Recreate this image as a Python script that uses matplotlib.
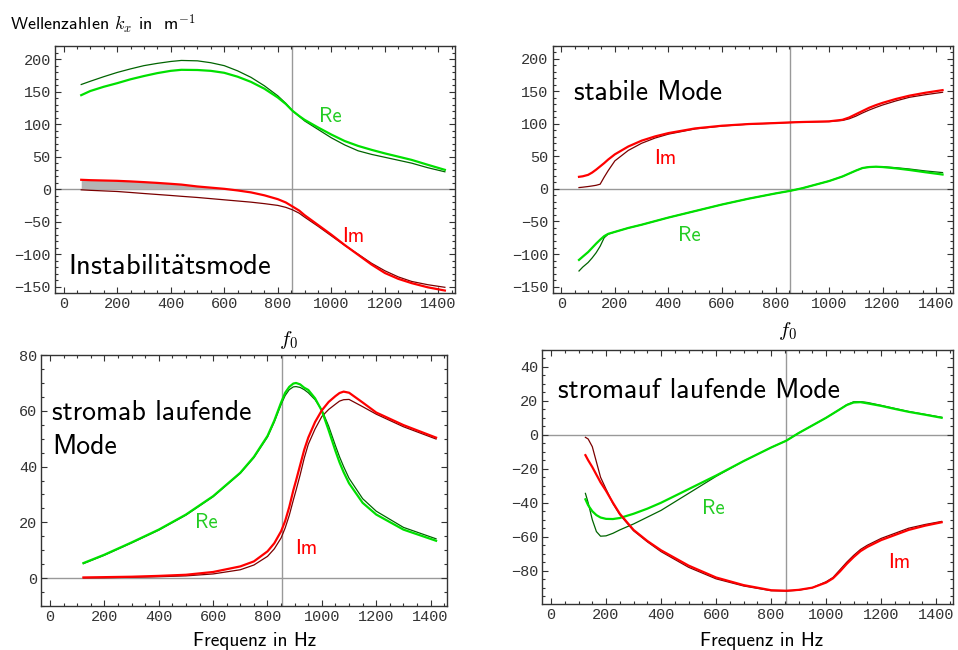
import numpy as np
import matplotlib
matplotlib.use("Agg")
import matplotlib.pyplot as plt
from matplotlib.ticker import MultipleLocator

plt.rcParams['mathtext.fontset'] = 'cm'
plt.rcParams['font.family'] = ['cmss10', 'DejaVu Sans']
plt.rcParams['axes.formatter.use_mathtext'] = False

# =============================================================================
# Data
# =============================================================================
F0 = 853

# Instabilitaetsmode (top left)
f_tl        = [66, 100, 150, 200, 250, 300, 350, 400, 440, 500, 550, 600, 650, 700, 750, 800, 830, 855,
               880, 900, 950, 1000, 1050, 1100, 1150, 1200, 1250, 1300, 1360, 1424]
re_tl_thin  = [161, 166, 173, 179.5, 185, 190, 193.5, 196.4, 198, 197.4, 194.5, 190, 182, 172, 159, 143.6, 132, 120.5,
               112, 105, 92, 79, 68, 59, 53.5, 49, 44.5, 40, 33, 26.7]
re_tl_thick = [144.6, 151, 157.5, 163, 169, 174, 178.5, 182, 183.6, 183.3, 182, 179, 173, 165, 154.5, 141, 131, 120.5,
               112.5, 106.7, 95, 84, 74, 66.5, 60.5, 55, 50, 45, 37.5, 29.7]
im_tl_thick = [14.4, 13.8, 13.3, 12.8, 11.9, 10.8, 9.6, 8.2, 7, 4.1, 2.3, 0.5, -2, -5, -9.5, -15.4, -20.5, -26.7,
               -33, -40, -55, -70, -86, -101, -116, -129, -138, -144.6, -151, -156]
im_tl_thin  = [-1, -1.8, -2.7, -3.6, -5.1, -6.7, -8.2, -9.7, -11, -12.8, -14.6, -16.4, -18.2, -20, -22.3, -25, -28, -31.8,
               -37, -43, -57, -71.8, -86.5, -100, -114, -125.6, -135, -142, -147, -151]

# stabile Mode (top right)
f_tr        = [66, 80, 100, 115, 130, 145, 160, 175, 200, 250, 300, 350, 400, 500, 600, 700, 800, 855, 900,
               1000, 1050, 1075, 1100, 1125, 1150, 1175, 1200, 1250, 1300, 1360, 1424]
im_tr_thick = [18.5, 19.3, 21.5, 25, 29.5, 34.5, 39.5, 45, 53, 65, 74, 80.5, 85.6, 92.8, 96.9, 99.5, 101, 102, 102.6,
               103.6, 106, 109.5, 114.5, 119.5, 124.5, 128.5, 132, 138, 143, 147.5, 151.5]
im_tr_thin  = [2, 2.6, 3.6, 4.5, 5.5, 7.2, 18, 28, 43, 59, 70, 78, 84, 92, 96.4, 99.3, 100.8, 101.8, 102.4,
               103.3, 105, 107.5, 111.5, 116.5, 121, 125, 128.7, 135, 140.5, 144.5, 148.2]
re_tr_thick = [-109, -104, -97, -90.5, -84, -78, -72.5, -69, -66, -60, -55, -49.5, -44, -34, -24, -15, -7, -3, 1,
               12, 19, 23.5, 28, 32, 33.5, 34, 33.5, 31.5, 29, 25.5, 22]
re_tr_thin  = [-126, -120, -113, -106, -98, -88, -75, -69.5, -66, -60, -55, -49.5, -44, -34, -24, -15, -7, -3, 1,
               12, 19, 23.5, 28, 32, 33.7, 34.2, 34, 32.5, 30.5, 27.5, 25]

# stromab laufende Mode (bottom left)
f_bl        = [123, 200, 300, 400, 500, 600, 700, 750, 800, 825, 850, 865, 880, 895, 905, 920, 935, 950, 975,
               1000, 1025, 1050, 1065, 1080, 1100, 1150, 1200, 1300, 1420]
re_bl_thick = [5.4, 8.4, 12.8, 17.4, 22.8, 29.4, 37.8, 43.5, 51, 56.5, 63, 66.5, 68.6, 69.8, 70, 69.5, 68.3, 67.5, 64.5,
               60, 53, 45.6, 41.5, 38, 34, 27, 22.8, 17.4, 13.4]
re_bl_thin  = [5.2, 8.2, 12.6, 17.2, 22.6, 29.2, 37.6, 43.2, 50.6, 56, 62.3, 65.5, 67.6, 68.6, 68.7, 68.4, 67.6, 66.5, 64,
               60.3, 54.5, 47.5, 43.5, 40, 35.8, 28.5, 24, 18.2, 14.1]
im_bl_thick = [0.24, 0.35, 0.5, 0.8, 1.2, 2.2, 4.2, 6, 9.6, 12.5, 16.8, 20.5, 25.5, 31.5, 35, 40.5, 46, 50.4, 56,
               60.2, 63.2, 65.3, 66.4, 66.9, 66.5, 63, 59.4, 54.9, 50.4]
im_bl_thin  = [0.1, 0.15, 0.3, 0.5, 0.8, 1.5, 3, 4.7, 7.8, 10.5, 14.4, 18, 22.5, 28, 31.5, 37, 43, 48, 53.5,
               58, 60.5, 62.4, 63.5, 64, 64.1, 61.5, 58.8, 54.3, 49.9]

# stromauf laufende Mode (bottom right)
f_br        = [125, 135, 150, 165, 180, 200, 225, 250, 300, 350, 400, 500, 600, 700, 800, 855, 900, 950, 1000,
               1025, 1050, 1075, 1100, 1125, 1150, 1200, 1250, 1300, 1360, 1420]
re_br_thick = [-38, -41.5, -45, -47.3, -48.7, -49.5, -49.6, -49, -46.5, -43.5, -40, -32, -24, -15.5, -7.5, -3.5, 1, 5.5, 10,
               12.5, 15, 17.5, 19, 19.2, 18.5, 17, 15.2, 13.5, 11.8, 10]
re_br_thin  = [-34.5, -40, -50, -57, -59.7, -59.5, -58, -56, -52.5, -48.5, -44.5, -34.5, -24.5, -15.5, -7.5, -3.5, 1, 5.5, 10,
               12.5, 15, 17.7, 19.4, 19.5, 19, 17.3, 15.5, 13.7, 12, 10.3]
im_br_thick = [-12, -15, -19, -23.5, -28, -33, -40, -46.5, -56, -62.5, -68, -77, -84, -88.5, -91.5, -91.8, -91.3, -90, -87,
               -84.5, -80.5, -76, -72, -68.5, -66, -62, -59, -56, -53.5, -51.5]
im_br_thin  = [-1.5, -2.5, -7, -16, -25, -32, -40.5, -47, -56.5, -63, -68.8, -78, -84.8, -89, -91.8, -92, -91.5, -90, -86.5,
               -84, -79.5, -75, -71, -67.5, -65, -61, -58, -55, -52.8, -51]

GREEN, DGREEN = '#00e000', '#006400'
RED, DRED = '#ff0000', '#7a0000'
LABGREEN = '#22cc22'
TICKFAMILY, TICKSIZE = 'Liberation Mono', 11

fig = plt.figure(figsize=(9.58, 6.5), dpi=100)

def panel(rect, f, re_thick, re_thin, im_thick, im_thin, ylim, ymaj, ymin):
    ax = fig.add_axes(rect)
    ax.axhline(0, color='#999999', lw=1.0, zorder=1)
    ax.axvline(F0, color='#999999', lw=1.0, zorder=1)
    # thin (dark) curves underneath, bright thick ones on top
    ax.plot(f, re_thin, color=DGREEN, lw=0.9, zorder=3)
    ax.plot(f, im_thin, color=DRED, lw=0.9, zorder=3)
    ax.plot(f, re_thick, color=GREEN, lw=1.6, zorder=4)
    ax.plot(f, im_thick, color=RED, lw=1.6, zorder=4)
    ax.set_xlim(-32, 1462)
    ax.set_ylim(*ylim)
    ax.xaxis.set_major_locator(MultipleLocator(200))
    ax.xaxis.set_minor_locator(MultipleLocator(50))
    ax.yaxis.set_major_locator(MultipleLocator(ymaj))
    ax.yaxis.set_minor_locator(MultipleLocator(ymin))
    ax.tick_params(which='both', direction='in', top=True, right=True,
                   colors='#333333', labelcolor='#333333', width=0.8)
    ax.tick_params(which='major', length=4, pad=3)
    ax.tick_params(which='minor', length=2)
    for lab in ax.get_xticklabels() + ax.get_yticklabels():
        lab.set_fontfamily(TICKFAMILY)
        lab.set_fontsize(TICKSIZE)
    for s in ax.spines.values():
        s.set_color('#333333')
        s.set_linewidth(1.0)
    return ax

ax1 = panel([0.0574, 0.549, 0.4176, 0.380], f_tl, re_tl_thick, re_tl_thin,
            im_tl_thick, im_tl_thin, (-160, 220), 50, 10)
ax1.fill_between(f_tl, im_tl_thick, 0, where=np.array(im_tl_thick) > 0,
                 interpolate=True, color='#b4b4b4', lw=0, zorder=2)
ax2 = panel([0.577, 0.549, 0.4175, 0.381], f_tr, re_tr_thick, re_tr_thin,
            im_tr_thick, im_tr_thin, (-160, 220), 50, 10)
ax3 = panel([0.0431, 0.0677, 0.424, 0.386], f_bl, re_bl_thick, re_bl_thin,
            im_bl_thick, im_bl_thin, (-10, 80), 20, 5)
ax4 = panel([0.566, 0.0708, 0.429, 0.391], f_br, re_br_thick, re_br_thin,
            im_br_thick, im_br_thin, (-99.6, 50), 20, 5)

# labels placed in figure pixels (from top-left)
W, H = 958, 650
def ftext(x, y, s, **kw):
    fig.text(x / W, 1 - y / H, s, **kw)

ftext(10, 24, r'Wellenzahlen $k_x$ in  m$^{-1}$', fontsize=13, va='center', ha='left')
ftext(288, 340, r'$f_0$', fontsize=15, va='center', ha='center')
ftext(787, 331, r'$f_0$', fontsize=15, va='center', ha='center')
ftext(255, 641, 'Frequenz in Hz', fontsize=14, va='center', ha='center')
ftext(762, 641, 'Frequenz in Hz', fontsize=14, va='center', ha='center')

ftext(68, 266, r'Instabilit$\ddot{\mathsf{a}}$tsmode', fontsize=20.5, va='center', ha='left')
ftext(574, 92, 'stabile Mode', fontsize=20, va='center', ha='left')
ftext(52, 412, 'stromab laufende', fontsize=20, va='center', ha='left')
ftext(52, 447, 'Mode', fontsize=20, va='center', ha='left')
ftext(558, 390, 'stromauf laufende Mode', fontsize=20, va='center', ha='left')

lab = dict(fontsize=15, va='center', ha='center')
ftext(330, 117, 'Re', color=LABGREEN, **lab)
ftext(353, 236, 'Im', color=RED, **lab)
ftext(665, 158, 'Im', color=RED, **lab)
ftext(689, 235, 'Re', color=LABGREEN, **lab)
ftext(206, 523, 'Re', color=LABGREEN, **lab)
ftext(306, 548, 'Im', color=RED, **lab)
ftext(713, 509, 'Re', color=LABGREEN, **lab)
ftext(899, 563, 'Im', color=RED, **lab)

fig.savefig('out.png', dpi=100)
